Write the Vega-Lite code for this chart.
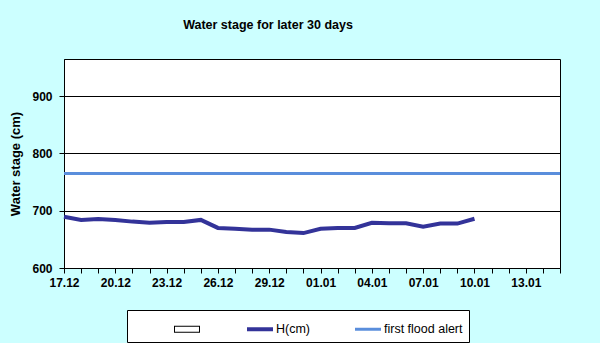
{
  "$schema": "https://vega.github.io/schema/vega-lite/v6.json",
  "width": 496,
  "height": 209,
  "autosize": {"type": "none"},
  "padding": {"left": 64, "top": 59, "right": 40, "bottom": 75},
  "background": "#CCFFFF",
  "title": {
    "text": "Water stage for later 30 days",
    "font": "Liberation Sans",
    "fontSize": 12.5,
    "fontWeight": "bold",
    "color": "#000000",
    "anchor": "middle",
    "dx": -44,
    "offset": 28
  },
  "config": {
    "view": {"stroke": "#000000", "strokeWidth": 1, "fill": "#FFFFFF"},
    "axis": {
      "labelFont": "Liberation Sans",
      "labelFontSize": 12,
      "labelFontWeight": "bold",
      "labelColor": "#000000",
      "titleFont": "Liberation Sans",
      "titleFontSize": 13,
      "titleFontWeight": "bold",
      "titleColor": "#000000",
      "domainColor": "#000000",
      "tickColor": "#000000",
      "tickSize": 5,
      "gridColor": "#000000",
      "gridOpacity": 1
    }
  },
  "data": {
    "values": [
      {"date": "2007-12-17", "h": 689.5},
      {"date": "2007-12-18", "h": 684},
      {"date": "2007-12-19", "h": 685.5},
      {"date": "2007-12-20", "h": 684},
      {"date": "2007-12-21", "h": 681},
      {"date": "2007-12-22", "h": 679},
      {"date": "2007-12-23", "h": 680.5},
      {"date": "2007-12-24", "h": 680.5},
      {"date": "2007-12-25", "h": 684},
      {"date": "2007-12-26", "h": 670},
      {"date": "2007-12-27", "h": 668.5},
      {"date": "2007-12-28", "h": 667},
      {"date": "2007-12-29", "h": 667},
      {"date": "2007-12-30", "h": 663},
      {"date": "2007-12-31", "h": 661},
      {"date": "2008-01-01", "h": 668.5},
      {"date": "2008-01-02", "h": 670},
      {"date": "2008-01-03", "h": 670},
      {"date": "2008-01-04", "h": 679},
      {"date": "2008-01-05", "h": 678},
      {"date": "2008-01-06", "h": 678},
      {"date": "2008-01-07", "h": 672},
      {"date": "2008-01-08", "h": 677.5},
      {"date": "2008-01-09", "h": 677.5},
      {"date": "2008-01-10", "h": 686}
    ]
  },
  "encoding": {
    "x": {
      "field": "date",
      "type": "temporal",
      "scale": {
        "type": "utc",
        "nice": false,
        "domain": [
          {"year": 2007, "month": 12, "date": 17, "utc": true},
          {"year": 2008, "month": 1, "date": 15, "utc": true}
        ]
      },
      "axis": {
        "title": null,
        "grid": false,
        "tickCount": {"interval": "day", "step": 1},
        "labelExpr": "(round((datum.value - utc(2007,11,17)) / 86400000) % 3 == 0) ? utcFormat(datum.value, '%d.%m') : ''",
        "labelPadding": 4,
        "labelOverlap": false,
        "labelFlush": false
      }
    },
    "y": {
      "type": "quantitative",
      "scale": {"domain": [600, 965], "nice": false, "zero": false},
      "axis": {
        "title": "Water stage (cm)",
        "values": [600, 700, 800, 900],
        "grid": true,
        "labelPadding": 7,
        "titlePadding": 9
      }
    },
    "color": {
      "type": "nominal",
      "scale": {
        "domain": [" ", "H(cm)", "first flood alert"],
        "range": ["#FFFFFF", "#333399", "#5A8EDC"]
      },
      "legend": {
        "title": " ",
        "titleOrient": "left",
        "titlePadding": 41,
        "orient": "none",
        "legendX": 63,
        "legendY": 251,
        "direction": "horizontal",
        "fillColor": "#FFFFFF",
        "strokeColor": "#000000",
        "padding": 6,
        "columnPadding": 44,
        "symbolSize": 676,
        "symbolStrokeWidth": 0,
        "labelOffset": 3,
        "labelFont": "Liberation Sans",
        "labelFontSize": 12.5,
        "labelColor": "#000000",
        "labelLimit": 300,
        "labelExpr": "datum.label == 'first flood alert' ? datum.label + '\u00a0\u00a0\u00a0\u00a0\u00a0\u00a0\u00a0\u00a0\u00a0\u00a0' : datum.label",
        "encode": {
          "symbols": {
            "update": {
              "shape": {"signal": "datum.value == ' ' ? 'M-1,-0.27H1V0.27H-1Z M-0.923,-0.193V0.193H0.923V-0.193Z' : datum.value == 'H(cm)' ? 'M-1,-0.154H1V0.154H-1Z' : 'M-1,-0.115H1V0.115H-1Z'"},
              "fill": {"signal": "datum.value == ' ' ? '#000000' : datum.value == 'H(cm)' ? '#333399' : '#5A8EDC'"},
              "stroke": {"value": "transparent"},
              "strokeWidth": {"value": 0},
              "size": {"value": 676},
              "opacity": {"value": 1},
              "fillOpacity": {"value": 1}
            }
          }
        }
      }
    }
  },
  "layer": [
    {
      "mark": {"type": "line", "strokeWidth": 4, "interpolate": "linear"},
      "encoding": {
        "y": {"field": "h"},
        "color": {"datum": "H(cm)"}
      }
    },
    {
      "mark": {"type": "rule", "strokeWidth": 3},
      "encoding": {
        "x": null,
        "y": {"datum": 765},
        "color": {"datum": "first flood alert"}
      }
    }
  ]
}
